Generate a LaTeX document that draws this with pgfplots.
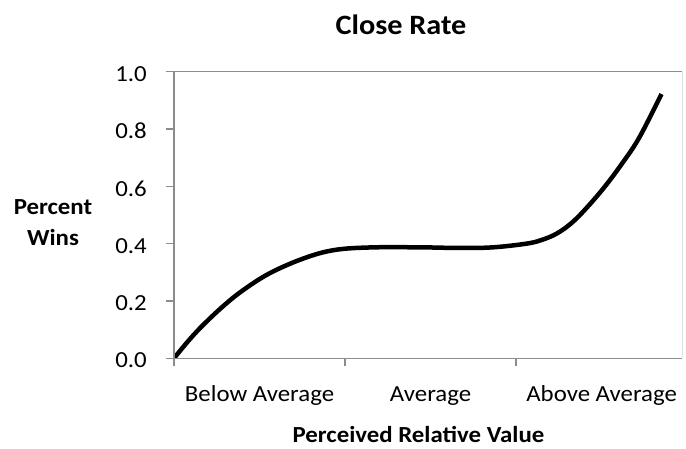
\documentclass[border=0pt]{standalone}
\usepackage{fontspec}
\setmainfont[FakeStretch=1.08]{Carlito}
\usepackage{pgfplots}
\pgfplotsset{compat=1.18}
\definecolor{axgray}{gray}{0.55}
\begin{document}
\begin{tikzpicture}[x=1pt,y=1pt]
\begin{axis}[
  name=ax,
  at={(0pt,0pt)}, anchor=south west,
  scale only axis, width=508pt, height=286.6pt,
  xmin=0, xmax=2.97, ymin=0, ymax=1,
  axis line style={draw=none},
  tick pos=left, tick align=outside,
  major tick length=8pt, minor tick length=8pt,
  tick style={axgray, line width=1.2pt},
  xtick={0.5,1.5,2.5},
  xticklabels={Below Average, Average, Above Average},
  minor xtick={0,1,2},
  major x tick style={draw=none},
  ytick={0,0.2,0.4,0.6,0.8,1},
  /pgf/number format/assume math mode=true,
  yticklabel style={/pgf/number format/fixed, /pgf/number format/fixed zerofill, /pgf/number format/precision=1, anchor=east, inner sep=0pt, xshift=-19pt, yshift=-2pt},
  xticklabel style={anchor=base, inner sep=0pt, yshift=-35pt},
  ticklabel style={font=\fontsize{23}{27}\selectfont},
  clip=true,
]
\addplot[black, line width=4.5pt, smooth, tension=0.6] coordinates {
 (0.00,0.000) (0.08,0.058) (0.16,0.110) (0.28,0.178) (0.40,0.236)
 (0.56,0.297) (0.76,0.349) (0.94,0.378) (1.16,0.387) (1.46,0.387)
 (1.66,0.385) (1.86,0.387) (2.06,0.400) (2.15,0.413) (2.24,0.436)
 (2.33,0.475) (2.42,0.530) (2.52,0.600) (2.62,0.680) (2.72,0.770)
 (2.85,0.922)
};
\end{axis}
\draw[axgray, line width=1.2pt] (ax.north west) -- (ax.south west) -- (ax.south east);
\draw[axgray, line width=1.2pt] (ax.north west) -- (ax.north east);
\draw[black!12, line width=1pt] (ax.south east) -- (ax.north east);
\node[anchor=base, font=\bfseries\fontsize{28}{32}\selectfont] at (227,323.3) {Close Rate};
\node[anchor=base, font=\bfseries\fontsize{23}{27}\selectfont] at (-121,144.3) {Percent};
\node[anchor=base, font=\bfseries\fontsize{23}{27}\selectfont] at (-121,113.3) {Wins};
\node[anchor=base, font=\bfseries\fontsize{23}{27}\selectfont] at (244.5,-84.5) {Perceived Relative Value};
\pgfresetboundingbox
\useasboundingbox (-174,-89.7) rectangle (512,358.3);
\end{tikzpicture}
\end{document}
